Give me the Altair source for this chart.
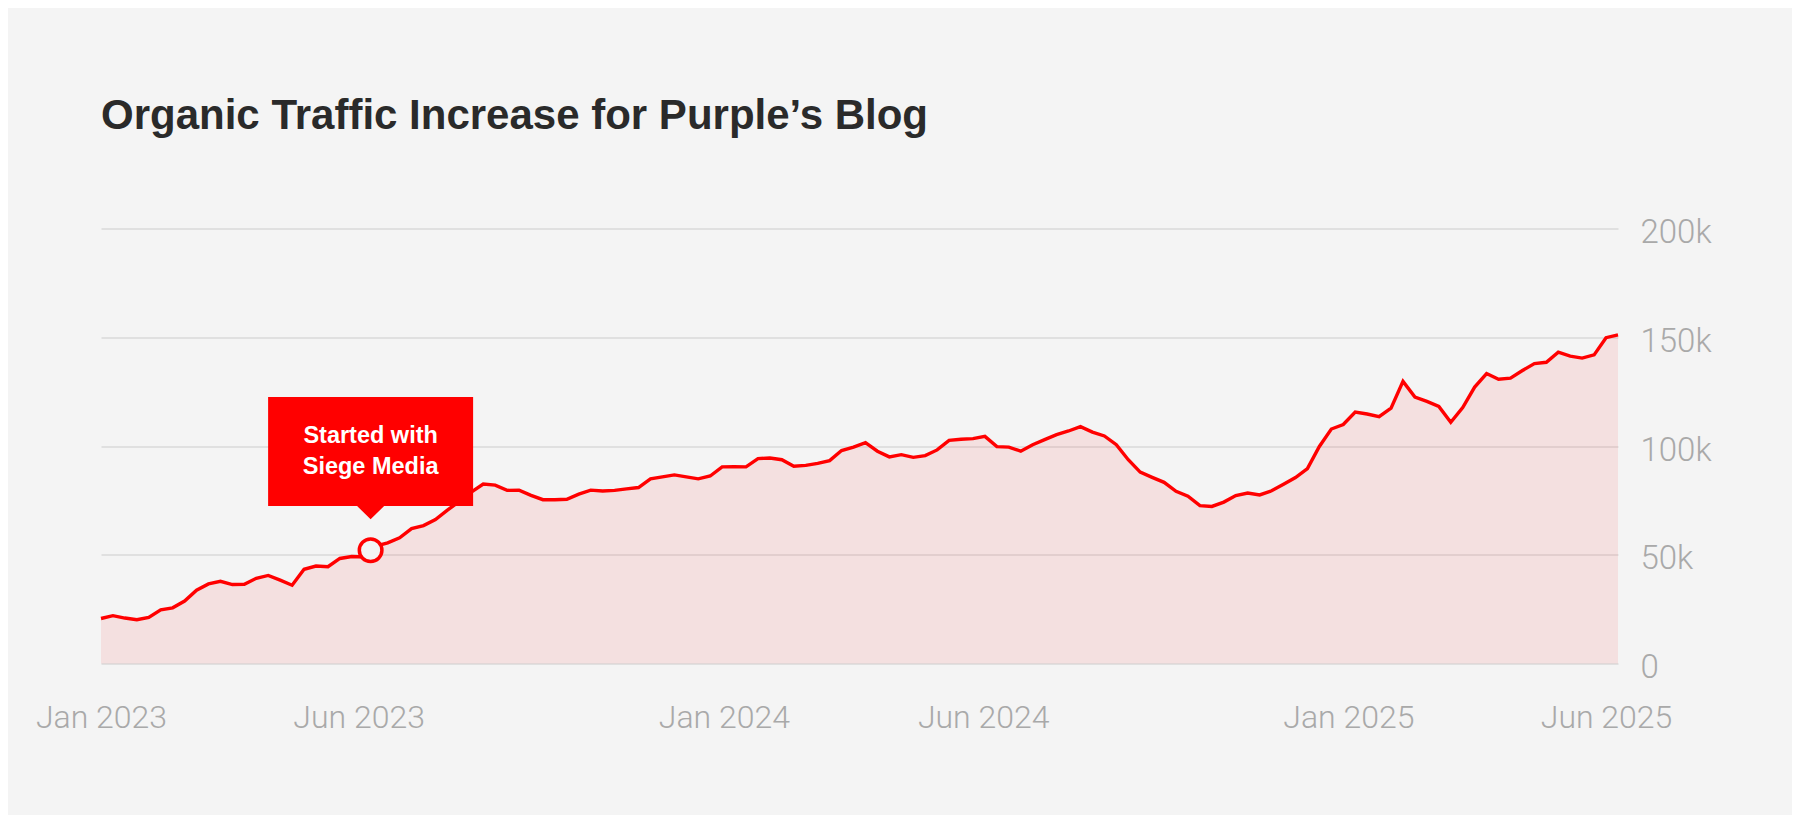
import altair as alt
import pandas as pd

# ---------------- data ----------------
start_date = "2023-01-01"          # first weekly observation
traffic_k = [
    20.7, 22.0, 20.9, 20.1, 21.2, 24.7, 25.6, 28.7, 33.7, 36.6,
    37.8, 36.3, 36.4, 39.2, 40.5, 38.3, 36.0, 43.3, 44.8, 44.5,
    48.3, 49.2, 49.0, 54.0, 55.5, 57.8, 62.0, 63.4, 66.2, 70.5,
    74.5, 78.8, 82.5, 82.0, 79.6, 79.7, 77.3, 75.3, 75.3, 75.5,
    77.9, 79.7, 79.3, 79.6, 80.3, 80.9, 84.9, 85.8, 86.7, 85.8,
    84.9, 86.2, 90.4, 90.5, 90.4, 94.2, 94.5, 93.7, 90.7, 91.1,
    92.0, 93.3, 97.9, 99.5, 101.5, 97.6, 95.0, 96.0, 94.8, 95.6,
    98.2, 102.6, 103.1, 103.4, 104.4, 99.7, 99.5, 97.6, 100.6, 102.9,
    105.2, 106.9, 108.9, 106.4, 104.6, 100.6, 93.7, 88.0, 85.6, 83.3,
    79.2, 76.9, 72.6, 72.2, 74.2, 77.2, 78.4, 77.5, 79.4, 82.4,
    85.5, 89.6, 99.8, 107.8, 109.9, 115.6, 114.7, 113.5, 117.4, 129.7,
    122.5, 120.5, 118.2, 110.9, 117.7, 127.1, 133.3, 130.7, 131.2, 134.7,
    137.9, 138.5, 143.1, 141.3, 140.4, 141.9, 149.8, 151.1,
]
y_ticks = [0, 50000, 100000, 150000, 200000]
x_ticks = [(2023, 1), (2023, 6), (2024, 1), (2024, 6), (2025, 1), (2025, 6)]

marker_date = ["2023-06-08T00:00:00"]
marker_value = [52100]
callout_text = ["Started with\nSiege Media"]

title_text = "Organic Traffic Increase for Purple\u2019s Blog"

# ---------------- frames ----------------
dates = pd.date_range(start_date, periods=len(traffic_k), freq="7D")
df = pd.DataFrame({
    "date": dates.strftime("%Y-%m-%dT00:00:00"),
    "traffic": [v * 1000 for v in traffic_k],
})
ann = pd.DataFrame({"date": marker_date, "traffic": marker_value, "label": callout_text})

RED = "#ff0000"
BG = "#f4f4f4"
AXIS_FONT = "Roboto"
HEAD_FONT = "Liberation Sans"

x_scale = alt.Scale(domain=[df["date"].iloc[0], df["date"].iloc[-1]], nice=False)
y_scale = alt.Scale(domain=[0, 200000], nice=False)

x_enc = alt.X(
    "date:T",
    scale=x_scale,
    axis=alt.Axis(
        values=[alt.DateTime(year=y, month=m, date=1) for y, m in x_ticks],
        format="%b %Y",
        title=None,
        grid=False,
        domain=False,
        ticks=False,
        tickSize=0,
        labelPadding=39,
        labelFlush=False,
        labelOverlap=False,
        labelFont=AXIS_FONT,
        labelFontWeight=300,
        labelFontSize=32,
        labelColor="#a9a9a9",
    ),
)
y_enc = alt.Y(
    "traffic:Q",
    scale=y_scale,
    axis=alt.Axis(
        orient="right",
        values=y_ticks,
        labelExpr="datum.value == 0 ? '0' : (datum.value / 1000) + 'k'",
        title=None,
        grid=True,
        gridColor="#cccccc",
        gridWidth=1,
        domain=False,
        ticks=False,
        tickSize=0,
        labelPadding=22,
        labelBaseline="middle",
        labelOffset=4,
        labelFont=AXIS_FONT,
        labelFontWeight=300,
        labelFontSize=33,
        labelColor="#a9a9a9",
    ),
)

area = alt.Chart(df).mark_area(color=RED, opacity=0.08).encode(x=x_enc, y=y_enc)
line = alt.Chart(df).mark_line(color=RED, strokeWidth=3.4).encode(x="date:T", y="traffic:Q")

callout_path = ("M-1,-1.495 L1,-1.495 L1,-0.431 L0.132,-0.431 L0,-0.301 "
                "L-0.132,-0.431 L-1,-0.431 Z")
callout = alt.Chart(ann).mark_point(
    shape=callout_path, size=42025, filled=True, fill=RED,
    strokeWidth=0, opacity=1,
).encode(x="date:T", y="traffic:Q")

callout_label = alt.Chart(ann).mark_text(
    color="white", font=HEAD_FONT, fontSize=23.5, fontWeight="bold",
    align="center", baseline="alphabetic", lineBreak="\n", lineHeight=31.3,
    dy=-107.5,
).encode(x="date:T", y="traffic:Q", text="label:N")

marker = alt.Chart(ann).mark_point(
    shape="circle", size=511, filled=True, fill=BG, stroke=RED,
    strokeWidth=3.5, opacity=1,
).encode(x="date:T", y="traffic:Q")

chart = alt.layer(area, line, callout, callout_label, marker).properties(
    width=1517,
    height=435,
    padding={"left": 93, "top": 220.5, "right": 174, "bottom": 151.5},
    autosize=alt.AutoSizeParams(type="none"),
    title=alt.TitleParams(
        text=title_text,
        anchor="start",
        frame="group",
        font=HEAD_FONT,
        fontSize=42,
        fontWeight="bold",
        color="#2a2a2a",
        baseline="alphabetic",
        offset=46,
    ),
).configure(background=BG).configure_view(strokeWidth=0)

chart.save("out.html", embed_options={"renderer": "svg", "actions": False})
